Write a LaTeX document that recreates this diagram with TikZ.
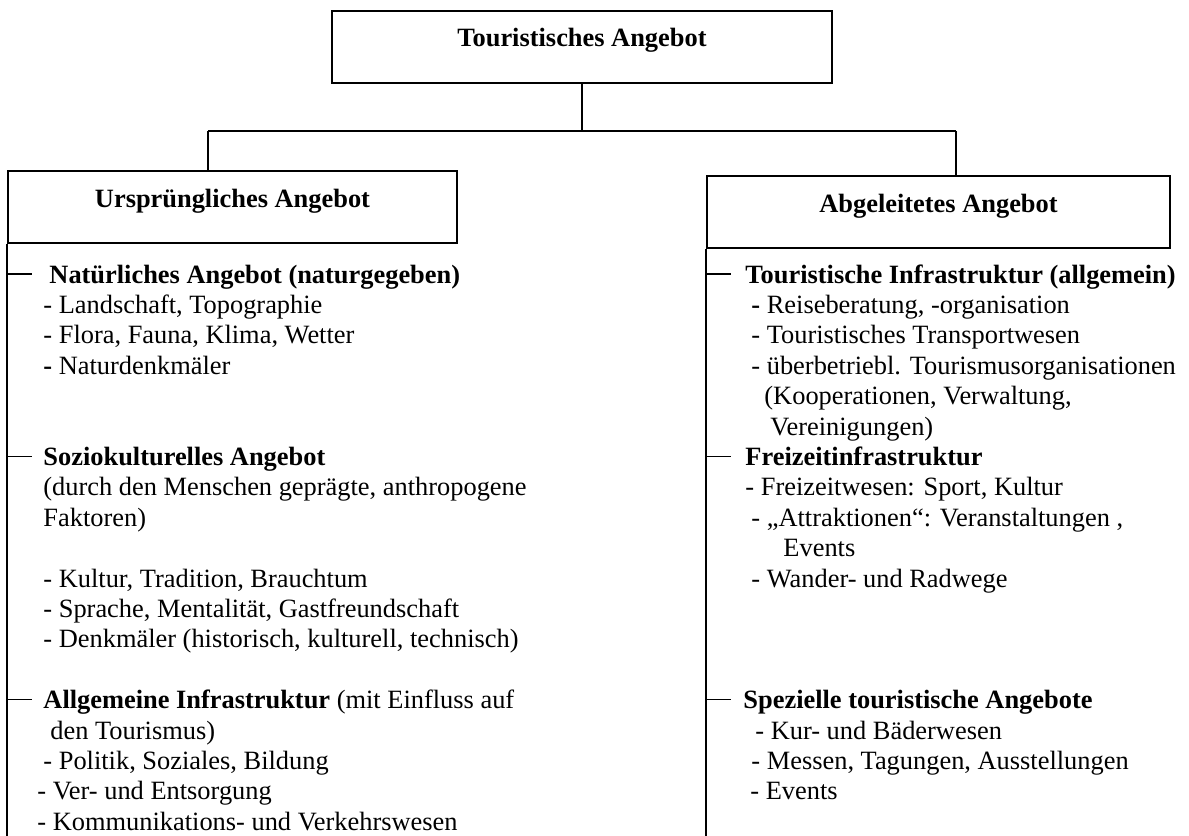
\documentclass[tikz,border=0pt]{standalone}
\usepackage{fontspec}
\setmainfont{Liberation Serif}
\usetikzlibrary{calc}

\tikzset{
  txt/.style={font=\fontsize{12}{13.8}\selectfont},
  box/.style={draw, line width=0.8pt, rectangle, inner sep=0pt, anchor=base,
              text height=16.36pt, text depth=16.36pt,
              font=\fontsize{12}{13.8}\selectfont\bfseries},
  item/.style={txt, anchor=base west, inner sep=0pt},
  head/.style={item, font=\fontsize{12}{13.8}\selectfont\bfseries},
  conn/.style={line width=0.7pt},
}

\begin{document}
\begin{tikzpicture}[x=0.4545pt, y=-0.4545pt]
  \useasboundingbox (0,0) rectangle (1189,836);

  % boxes
  \node[box, minimum width=227.3pt] (top) at (582,47) {Touristisches Angebot};
  \node[box, minimum width=204.1pt] (ur)  at (232.5,207) {Ursprüngliches Angebot};
  \node[box, minimum width=210.4pt] (abg) at (938.5,212) {Abgeleitetes Angebot};

  % connectors
  \coordinate (jl) at (208,131);
  \coordinate (jr) at (956,131);
  \coordinate (bottom) at (0,836);
  \draw[conn] (top.south) -- (top.south |- jl);
  \draw[conn] (jl) -- (jr);
  \draw[conn] (jl) -- (jl |- ur.north);
  \draw[conn] (jr) -- (jr |- abg.north);
  \draw[conn] (ur.south west) -- (ur.south west |- bottom);
  \draw[conn] (abg.south west) -- (abg.south west |- bottom);

  % left column
  \node[head] (nat)   at (49,283)   {Natürliches Angebot (naturgegeben)};
  \node[head] (sozio) at (43,465.4) {Soziokulturelles Angebot};
  \node[item] (allg)  at (43,708.6) {\textbf{Allgemeine Infrastruktur} (mit Einfluss auf};
  \foreach \row/\x/\t [count=\i] in {
      1/43/{- Landschaft, Topographie},
      2/43/{- Flora, Fauna, Klima, Wetter},
      3/43/{\textbf{-} Naturdenkmäler},
      7/43/{(durch den Menschen geprägte, anthropogene},
      8/43/{Faktoren)},
      10/43/{- Kultur, Tradition, Brauchtum},
      11/43/{- Sprache, Mentalität, Gastfreundschaft},
      12/43/{- Denkmäler (historisch, kulturell, technisch)},
      15/50/{den Tourismus)},
      16/43/{- Politik, Soziales, Bildung},
      17/37/{- Ver- und Entsorgung},
      18/37/{- Kommunikations- und Verkehrswesen}}
    \node[item] (L\i) at (\x,{283+\row*30.4}) {\t};

  % right column
  \node[head] (tinf) at (745,283)   {Touristische Infrastruktur (allgemein)};
  \node[head] (finf) at (745,465.4) {Freizeitinfrastruktur};
  \node[head] (spez) at (743,708.6) {Spezielle touristische Angebote};
  \foreach \row/\x/\t [count=\i] in {
      1/751/{\textbf{-} Reiseberatung, -organisation},
      2/751/{- Touristisches Transportwesen},
      3/751/{- überbetriebl. Tourismusorganisationen},
      4/764/{(Kooperationen, Verwaltung,},
      5/770/{Vereinigungen)},
      7/745/{- Freizeitwesen: Sport, Kultur},
      8/751/{- „Attraktionen“: Veranstaltungen ,},
      9/783/{Events},
      10/751/{- Wander- und Radwege},
      15/755/{- Kur- und Bäderwesen},
      16/751/{- Messen, Tagungen, Ausstellungen},
      17/750/{- Events}}
    \node[item] (R\i) at (\x,{283+\row*30.4}) {\t};

  % ticks
  \foreach \h in {nat, sozio, allg}
    \draw[conn] ($(ur.south west |- \h.base)+(0,-9)$) -- ++(25,0);
  \foreach \h in {tinf, finf, spez}
    \draw[conn] ($(abg.south west |- \h.base)+(0,-9)$) -- ++(25,0);
\end{tikzpicture}
\end{document}
